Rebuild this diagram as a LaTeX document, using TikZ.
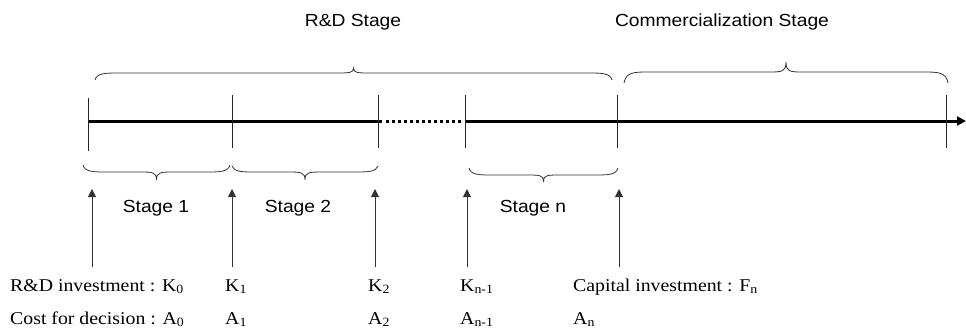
\documentclass[tikz,border=0pt]{standalone}
\usepackage{fontspec}
\usetikzlibrary{arrows.meta}
\newfontfamily\labfont[FakeStretch=1.1]{Liberation Sans}
\newfontfamily\timfont[FakeStretch=1.1]{Liberation Serif}
\newcommand\mybrace[5]{%
  \pgfmathsetmacro\bxm{(#1+#2)/2}%
  \draw[bracestyle] (#1,#3) .. controls (#1+2,#4) and (#1+10,#4) .. (#1+25,#4)
    -- (\bxm-18,#4) .. controls (\bxm-4,#4) and (\bxm,#4) .. (\bxm,#5)
    .. controls (\bxm,#4) and (\bxm+4,#4) .. (\bxm+18,#4)
    -- (#2-25,#4) .. controls (#2-10,#4) and (#2-2,#4) .. (#2,#3);}
\begin{document}
\begin{tikzpicture}[x=1pt,y=-1pt,
  lab/.style={font=\labfont\fontsize{17.5}{20}\selectfont, inner sep=0pt},
  tim/.style={font=\timfont\fontsize{18}{20}\selectfont, inner sep=0pt, anchor=base west},
  tick/.style={line width=0.9pt, black!85},
  axis/.style={line width=3pt},
  bracestyle/.style={line width=0.8pt, black!80},
  uparrow/.style={line width=1pt, black!80, -{Triangle[length=8pt,width=8pt]}}]
\useasboundingbox (0,0) rectangle (966,330);
% titles
\node[lab, anchor=base] (rdtitle) at (353,26) {R\&D Stage};
\node[lab, anchor=base] (comtitle) at (722,26) {Commercialization Stage};
% top braces
\mybrace{95}{612}{80}{73}{68}
\mybrace{624}{948}{83}{72}{62}
% axis
\coordinate (a0) at (88,121);
\coordinate (a1) at (382,121);
\coordinate (d0) at (386,121);
\coordinate (d1) at (463,121);
\coordinate (b0) at (465,121);
\coordinate (b1) at (966,121);
\draw[axis] (a0) -- (a1);
\draw[line width=3pt, dash pattern=on 2.5pt off 3.5pt] (d0) -- (d1);
\draw[axis, -{Triangle[length=9pt,width=9pt]}] (b0) -- (b1);
% ticks
\draw[tick] (88,98) -- (88,151);
\foreach \tx in {232,378,465,617,946} \draw[tick] (\tx,95) -- (\tx,148);
% bottom braces
\mybrace{83}{230}{165}{172}{180}
\mybrace{232}{378}{166}{172}{180}
\mybrace{469}{618}{168}{175}{181}
% stage labels
\node[lab, anchor=base] (s1) at (156,212.5) {Stage 1};
\node[lab, anchor=base] (s2) at (298,212.5) {Stage 2};
\node[lab, anchor=base] (sn) at (533,212) {Stage n};
% arrows
\foreach \ax/\nm in {92/p0,232/p1,375/p2,467/p3,619/p4} {
  \coordinate (\nm b) at (\ax,267);
  \coordinate (\nm t) at (\ax,189);
  \draw[uparrow] (\nm b) -- (\nm t);
}
% bottom texts
\node[tim] (k0) at (10,291) {R\&D investment : K\textsubscript{0}};
\node[tim] (k1) at (225,291) {K\textsubscript{1}};
\node[tim] (k2) at (368,291) {K\textsubscript{2}};
\node[tim] (k3) at (460,291) {K\textsubscript{n-1}};
\node[tim] (fn) at (573,291) {Capital investment : F\textsubscript{n}};
\node[tim] (c0) at (10,324) {Cost for decision : A\textsubscript{0}};
\node[tim] (c1) at (225,324) {A\textsubscript{1}};
\node[tim] (c2) at (368,324) {A\textsubscript{2}};
\node[tim] (c3) at (460,324) {A\textsubscript{n-1}};
\node[tim] (cn) at (573,324) {A\textsubscript{n}};
\end{tikzpicture}
\end{document}
